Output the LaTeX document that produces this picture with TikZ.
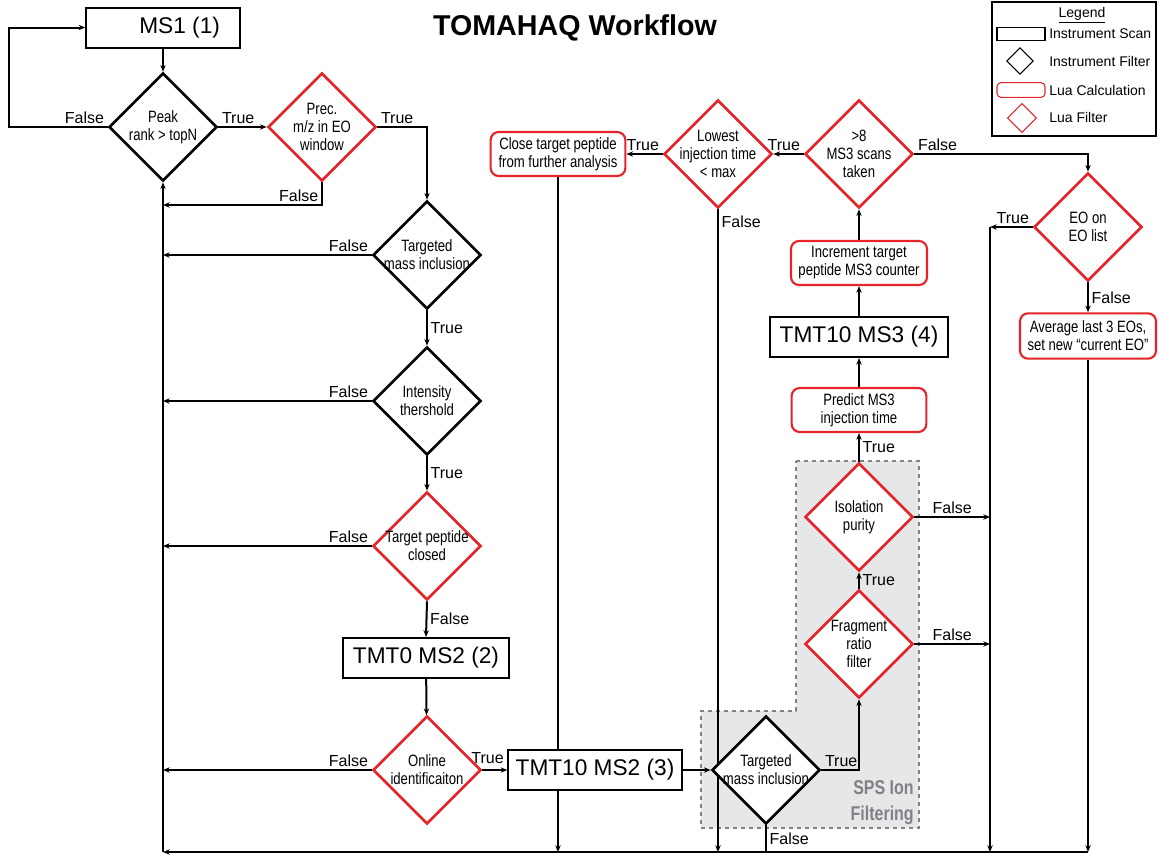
\documentclass[tikz,border=0pt]{standalone}
\usepackage{fontspec}
\setmainfont{Liberation Sans}
\newfontfamily\narrowfont[FakeStretch=0.8]{Liberation Sans}
\usepackage{xcolor}
\usepackage{tikz}
\usetikzlibrary{arrows.meta}
\usetikzlibrary{shapes,arrows}
\usetikzlibrary{backgrounds}
\definecolor{luared}{RGB}{230,36,41}
\definecolor{spsgray}{RGB}{230,231,232}
\definecolor{spstext}{RGB}{128,130,133}
\tikzstyle{arrow} = [line width=1.5pt,->,>={Stealth[length=5pt,width=4pt]}]
\tikzstyle{wire} = [line width=1.5pt]
\tikzstyle{iscan} = [draw, line width=1.5pt, fill=white, minimum height=30pt, inner sep=0pt, font=\fontsize{17}{20}\selectfont]
\tikzstyle{ifilter} = [diamond, draw, line width=2pt, fill=white, minimum width=81pt, minimum height=81pt, inner sep=0pt]
\tikzstyle{luafilter} = [ifilter, draw=luared]
\tikzstyle{luacalc} = [draw=luared, rounded corners=6pt, line width=1.6pt, fill=white, minimum width=101pt, minimum height=33pt, inner sep=0pt, align=center, font=\narrowfont\fontsize{12.3}{13.5}\selectfont]
\tikzstyle{dtext} = [align=center, font=\narrowfont\fontsize{12.3}{13.5}\selectfont, inner sep=0pt]
\tikzstyle{lbl} = [font=\fontsize{12}{14}\selectfont, inner sep=2pt]
\tikzstyle{legtext} = [anchor=west, inner sep=0pt, font=\fontsize{10.5}{12}\selectfont]

\begin{document}
\begin{tikzpicture}[x=0.75pt, y=-0.75pt]
    \useasboundingbox (0,0) rectangle (1162,854);

    % title and legend
    \node[font=\bfseries\fontsize{21.5}{24}\selectfont] (title) at (575,28) {TOMAHAQ Workflow};
    \draw[line width=1.2pt] (992,2) rectangle (1156,136);
    \node[legtext, anchor=center] (legtitle) at (1082,15) {\underline{Legend}};
    \node[draw, line width=0.8pt, minimum width=36pt, minimum height=10pt, inner sep=0pt] (legscan) at (1021,34) {};
    \node[diamond, draw, line width=0.8pt, minimum width=20pt, minimum height=20pt, inner sep=0pt] (legfilter) at (1020,61) {};
    \node[draw=luared, rounded corners=3pt, line width=0.8pt, minimum width=36pt, minimum height=11pt, inner sep=0pt] (legcalc) at (1021,90) {};
    \node[diamond, draw=luared, line width=0.8pt, minimum width=22pt, minimum height=22pt, inner sep=0pt] (legluaf) at (1022,118) {};
    \node[legtext] (legscantext) at (1049,34) {Instrument Scan};
    \node[legtext] (legfiltertext) at (1049,61) {Instrument Filter};
    \node[legtext] (legcalctext) at (1049,90) {Lua Calculation};
    \node[legtext] (legluaftext) at (1049,117) {Lua Filter};

    % left column
    \node[iscan, minimum width=115pt] (ms1) at (163,27.5) {\hspace*{25pt}MS1 (1)};
    \node[ifilter, label={[dtext]center:{Peak\\rank > topN}}] (peak) at (163,127) {};
    \node[luafilter, label={[dtext]center:{Prec.\\m/z in EO\\window}}] (prec) at (322,127) {};
    \node[ifilter, label={[dtext]center:{Targeted\\mass inclusion}}] (tmi) at (427,255) {};
    \node[ifilter, label={[dtext]center:{Intensity\\thershold}}] (inten) at (427,401) {};
    \node[luafilter, label={[dtext]center:{Target peptide\\closed}}] (closed) at (427,546) {};
    \node[iscan, minimum width=124pt] (tmtzero) at (426,658) {TMT0 MS2 (2)};
    \node[luafilter, label={[dtext]center:{Online\\identificaiton}}] (online) at (427,770) {};
    \node[iscan, minimum width=130pt] (tmtms2) at (595,770) {TMT10 MS2 (3)};

    % right side
    \node[ifilter, label={[dtext]center:{Targeted\\mass inclusion}}] (tmisps) at (766,770) {};
    \node[luafilter, label={[dtext]center:{Fragment\\ratio\\filter}}] (frag) at (859,644) {};
    \node[luafilter, label={[dtext]center:{Isolation\\purity}}] (iso) at (859,517) {};
    \node[luacalc] (predict) at (859,410) {Predict MS3\\injection time};
    \node[iscan, minimum width=133pt] (tmtms3) at (859,337) {TMT10 MS3 (4)};
    \node[luacalc, minimum width=102pt] (incr) at (859,263) {Increment target\\peptide MS3 counter};
    \node[luafilter, label={[dtext]center:{>8\\MS3 scans\\taken}}] (scans) at (859,154) {};
    \node[luafilter, label={[dtext]center:{Lowest\\injection time\\< max}}] (lowest) at (718,154) {};
    \node[luacalc] (close) at (558,154) {Close target peptide\\from further analysis};
    \node[luafilter, label={[dtext]center:{EO on\\EO list}}] (eo) at (1088,227) {};
    \node[luacalc, minimum width=102pt, minimum height=34pt] (avg) at (1088,336) {Average last 3 EOs,\\set new “current EO”};

    \coordinate (spine) at (163,852);
    \coordinate (botright) at (1088,852);
    \coordinate (precturn) at (163,205);
    \coordinate (eotrue) at (990,227);

    % shaded block and long return lines
    \begin{scope}[on background layer]
        \draw[spstext, dashed, line width=0.9pt, fill=spsgray] (796,461) -- (919,461) -- (919,828) -- (701,828) -- (701,711) -- (796,711) -- cycle;
        \draw[arrow] (close.south) -- (close.south |- spine);
        \draw[arrow] (lowest.south) node[lbl, below right, yshift=-2pt] {False} -- (lowest.south |- spine);
        \draw[wire] (tmisps.south) -- node[lbl, midway, right] {False} (tmisps.south |- spine);
        \draw[arrow] (eotrue) -- (eotrue |- spine);
        \draw[arrow] (avg.south) -- (botright);
        \draw[arrow] (botright) -- (spine);
        \draw[arrow] (spine) -- (peak.south);
    \end{scope}
    \node[font=\narrowfont\bfseries\fontsize{15}{19.5}\selectfont, text=spstext, align=right, anchor=east, inner sep=0pt] (sps) at (914,803) {SPS Ion\\Filtering};

    % left column connectors
    \draw[arrow] (ms1) -- (peak);
    \draw[arrow] (peak.west) node[lbl, above left] {False} -- ++(-99,0) |- (ms1.west);
    \draw[arrow] (peak.east) node[lbl, above right] {True} -- (prec.west);
    \draw[arrow] (prec.east) node[lbl, above right] {True} -| (tmi.north);
    \draw[arrow] (prec.south) |- node[lbl, pos=0.5, above left] {False} (precturn);
    \draw[arrow] (tmi.west) node[lbl, above left] {False} -- (tmi.west -| spine);
    \draw[arrow] (tmi.south) -- node[lbl, midway, right] {True} (inten.north);
    \draw[arrow] (inten.west) node[lbl, above left] {False} -- (inten.west -| spine);
    \draw[arrow] (inten.south) -- node[lbl, midway, right] {True} (closed.north);
    \draw[arrow] (closed.west) node[lbl, above left] {False} -- (closed.west -| spine);
    \draw[arrow] (closed.south) -- node[lbl, midway, right] {False} (tmtzero.north);
    \draw[arrow] (tmtzero) -- (online);
    \draw[arrow] (online.west) node[lbl, above left] {False} -- (online.west -| spine);
    \draw[arrow] (online.east) -- (tmtms2.west) node[lbl, above left, yshift=2pt] {True};

    % right side connectors
    \draw[arrow] (tmtms2.east) -- (tmisps.west);
    \draw[arrow] (tmisps.east) node[lbl, above right] {True} -| (frag.south);
    \draw[arrow] (frag.north) -- node[lbl, midway, right] {True} (iso.south);
    \draw[arrow] (frag.east) -- node[lbl, midway, above] {False} (frag.east -| eotrue);
    \draw[arrow] (iso.north) -- node[lbl, midway, right] {True} (predict.south);
    \draw[arrow] (iso.east) -- node[lbl, midway, above] {False} (iso.east -| eotrue);
    \draw[arrow] (predict) -- (tmtms3);
    \draw[arrow] (tmtms3) -- (incr);
    \draw[arrow] (incr) -- (scans);
    \draw[arrow] (scans.west) node[lbl, above left] {True} -- (lowest.east);
    \draw[arrow] (lowest.west) node[lbl, above left] {True} -- (close.east);
    \draw[arrow] (scans.east) node[lbl, above right] {False} -| (eo.north);
    \draw[arrow] (eo.west) node[lbl, above left] {True} -- (eotrue);
    \draw[arrow] (eo.south) -- node[lbl, midway, right] {False} (avg.north);
\end{tikzpicture}
\end{document}
